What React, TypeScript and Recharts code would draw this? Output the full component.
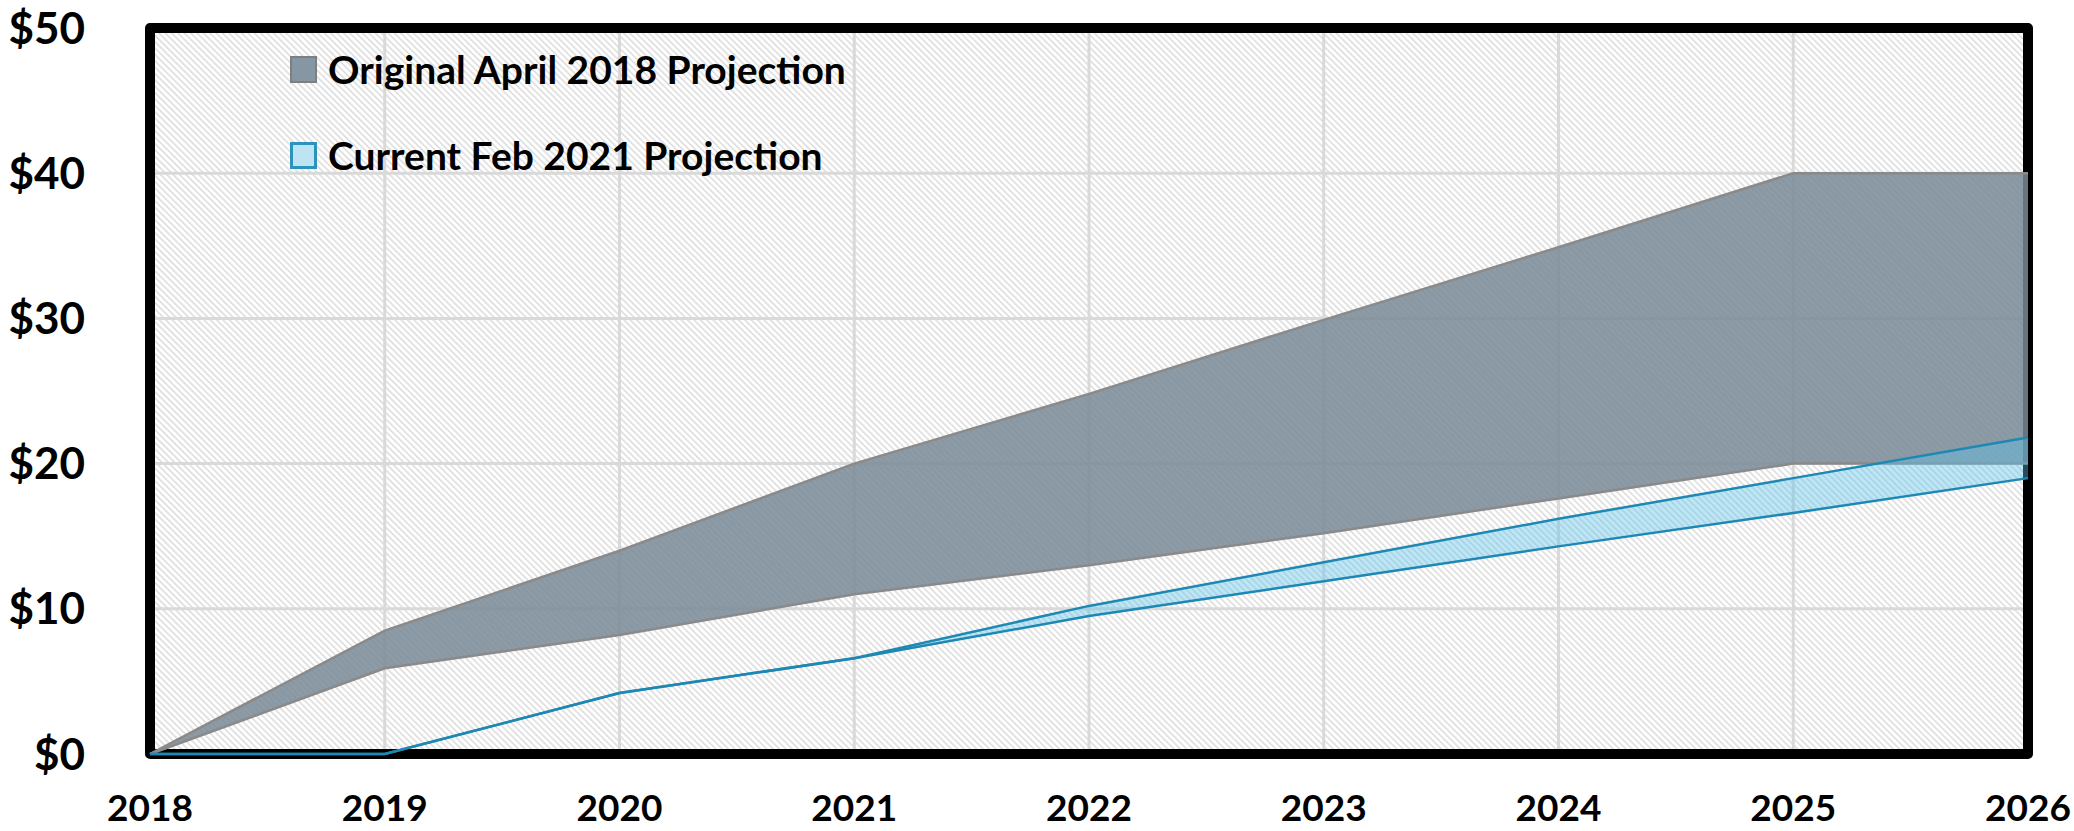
import React from 'react';
import {
  AreaChart,
  Area,
  XAxis,
  YAxis,
  CartesianGrid,
  ReferenceArea,
  Legend,
} from 'recharts';

const years = [2018, 2019, 2020, 2021, 2022, 2023, 2024, 2025, 2026];
const origLow = [0, 5.9, 8.2, 11.0, 13.0, 15.2, 17.6, 20.0, 20.0];
const origHigh = [0, 8.5, 14.0, 20.0, 24.8, 29.9, 34.9, 40.0, 40.0];
const currLow = [0, 0, 4.2, 6.6, 9.5, 11.9, 14.3, 16.6, 19.0];
const currHigh = [0, 0, 4.2, 6.6, 10.2, 13.2, 16.2, 19.0, 21.8];
const yTicks = [0, 10, 20, 30, 40, 50];
const seriesNames = ['Original April 2018 Projection', 'Current Feb 2021 Projection'];

const data = years.map((year, i) => ({
  year,
  orig: [origLow[i], origHigh[i]],
  curr: [currLow[i], currHigh[i]],
}));

const FONT = 'Lato, "Open Sans", sans-serif';

const swatchStyles = [
  { background: '#8796A3', border: '2px solid #7f7f7f' },
  { background: '#BDE4F3', border: '3px solid #2E93BA' },
];

const renderLegend = () => (
  <div style={{ fontFamily: FONT }}>
    {seriesNames.map((name, i) => (
      <div
        key={name}
        style={{ display: 'flex', alignItems: 'center', height: 86 }}
      >
        <div
          style={{
            width: 27,
            height: 27,
            boxSizing: 'border-box',
            ...swatchStyles[i],
          }}
        />
        <span
          style={{
            marginLeft: 11,
            fontSize: 39,
            fontWeight: 700,
            color: '#000',
            whiteSpace: 'nowrap',
            lineHeight: 1,
          }}
        >
          {name}
        </span>
      </div>
    ))}
  </div>
);

export default function App() {
  return (
    <div style={{ position: 'absolute', left: 0, top: 0, width: 2074, height: 831, background: '#fff' }}>
      <AreaChart
        width={2074}
        height={831}
        data={data}
        margin={{ top: 28, right: 46, left: 0, bottom: 0 }}
      >
        <defs>
          <pattern
            id="hatch"
            patternUnits="userSpaceOnUse"
            width={4.5}
            height={4.5}
            patternTransform="rotate(45)"
          >
            <rect x={0} y={0} width={4.5} height={4.5} fill="#ffffff" />
            <line x1={0} y1={1} x2={4.5} y2={1} stroke="#d2d2d2" strokeWidth={1.2} />
          </pattern>
        </defs>
        <CartesianGrid
          fill="url(#hatch)"
          fillOpacity={1}
          stroke="#d9d9d9"
          strokeWidth={3}
        />
        <XAxis
          dataKey="year"
          type="number"
          domain={[2018, 2026]}
          ticks={years}
          interval={0}
          height={77}
          tickSize={0}
          tickMargin={41}
          axisLine={false}
          tickLine={false}
          tick={{ fontFamily: FONT, fontSize: 37, fontWeight: 700, fill: '#000' }}
        />
        <YAxis
          type="number"
          domain={[0, 50]}
          ticks={yTicks}
          interval={0}
          width={150}
          tickSize={0}
          tickMargin={65}
          axisLine={false}
          tickLine={false}
          tickFormatter={(v) => `$${v}`}
          tick={{ fontFamily: FONT, fontSize: 44, fontWeight: 700, fill: '#000' }}
        />
        <ReferenceArea
          x1={2018}
          x2={2026}
          y1={0}
          y2={50}
          fill="none"
          stroke="#000"
          strokeWidth={10}
          strokeLinejoin="round"
          ifOverflow="visible"
        />
        <Area
          type="linear"
          dataKey="orig"
          name={seriesNames[0]}
          fill="#788997"
          fillOpacity={0.85}
          stroke="#8a8a8a"
          strokeWidth={2.5}
          isAnimationActive={false}
          dot={false}
          activeDot={false}
        />
        <Area
          type="linear"
          dataKey="curr"
          name={seriesNames[1]}
          fill="#5BC0EB"
          fillOpacity={0.4}
          stroke="#1E88B4"
          strokeWidth={2.5}
          isAnimationActive={false}
          dot={false}
          activeDot={false}
        />
        <Legend
          layout="vertical"
          align="center"
          verticalAlign="middle"
          content={renderLegend}
          wrapperStyle={{ position: 'absolute', left: 290, top: 26, width: 'auto', height: 'auto' }}
        />
      </AreaChart>
    </div>
  );
}
